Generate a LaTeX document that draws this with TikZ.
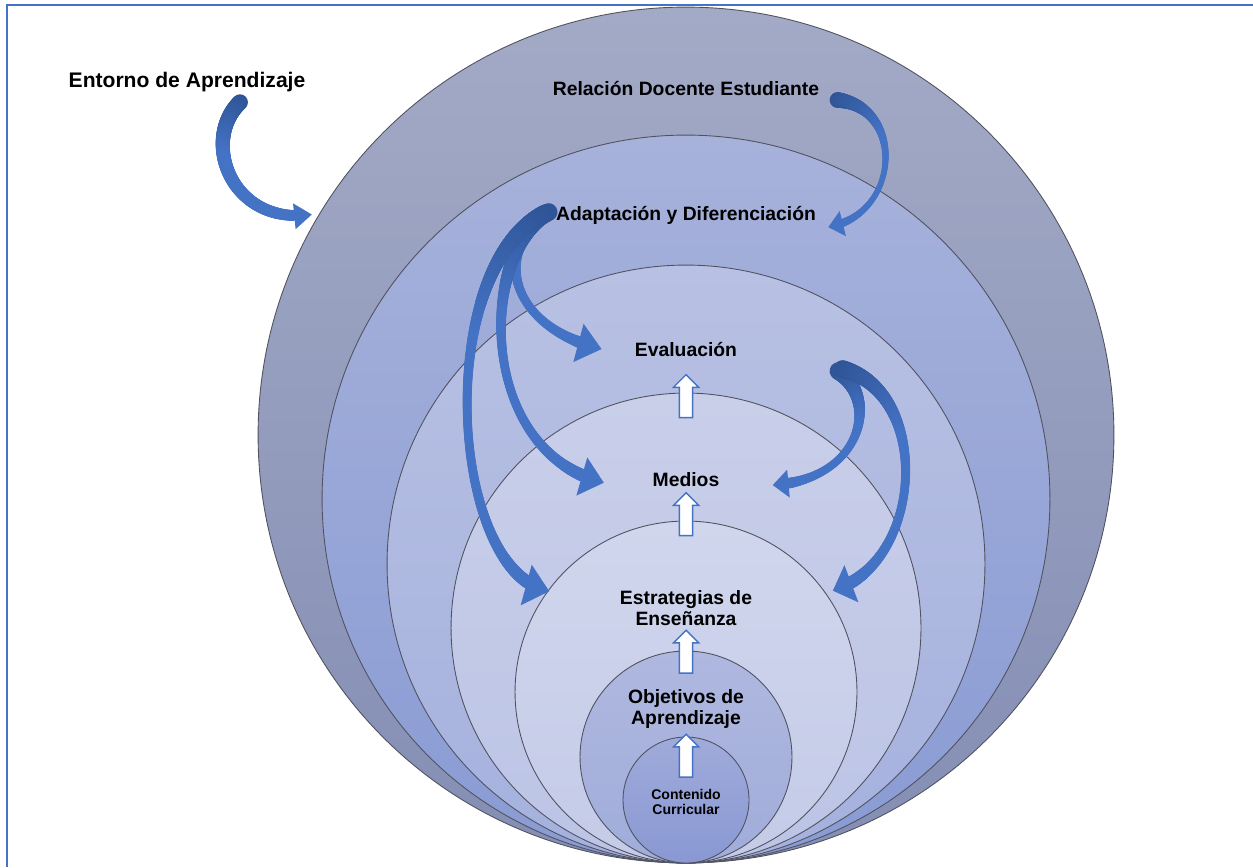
\documentclass[tikz,border=0pt]{standalone}
\usepackage{fontspec}
\setmainfont{Liberation Sans}
\usetikzlibrary{shapes.arrows, decorations.markings, calc}
\definecolor{framecolor}{RGB}{68,114,196}
\definecolor{arrowblue}{RGB}{68,114,196}
\definecolor{arrowdark}{RGB}{47,85,151}
\definecolor{ringline}{RGB}{80,82,95}
\definecolor{relA}{RGB}{163,170,198}
\definecolor{relB}{RGB}{132,142,180}
\definecolor{adaA}{RGB}{167,178,219}
\definecolor{adaB}{RGB}{137,155,212}
\definecolor{evaA}{RGB}{184,193,227}
\definecolor{evaB}{RGB}{165,177,222}
\definecolor{medA}{RGB}{201,207,233}
\definecolor{medB}{RGB}{188,196,230}
\definecolor{estA}{RGB}{208,214,236}
\definecolor{estB}{RGB}{196,203,232}
\definecolor{objA}{RGB}{175,184,223}
\definecolor{objB}{RGB}{160,172,218}
\definecolor{conA}{RGB}{160,171,218}
\definecolor{conB}{RGB}{137,152,211}

\begin{document}
\begin{tikzpicture}[
    x=0.02cm, y=0.02cm,
    ring/.style={circle, draw=ringline, line width=0.5pt, inner sep=0pt},
    lbl/.style={font=\fontsize{11}{11.5}\selectfont\bfseries, align=center, inner sep=0pt},
    uparrow/.style={single arrow, draw=arrowblue, fill=white, line width=0.8pt, rotate=90,
        minimum height=24.4pt, inner xsep=0pt, inner ysep=3.4pt, single arrow head extend=3.4pt},
    swoosh/.style n args={5}{draw=none,
        decoration={markings,
            mark=between positions 0 and -#4pt step 0.5pt with {
                \pgfmathsetmacro\ribT{\pgfkeysvalueof{/pgf/decoration/mark info/distance from start}/\pgfdecoratedpathlength}
                \pgfmathsetmacro\ribW{#1*(1-\ribT)^2+2*#2*\ribT*(1-\ribT)+#3*\ribT^2}
                \pgfmathtruncatemacro\ribC{min(100,\ribT*300)}
                \fill[arrowblue!\ribC!arrowdark] (0,0) circle[radius=\ribW pt];
            },
            mark=at position -3pt with {
                \fill[arrowblue, xshift=3pt] (0pt,0pt) -- (-#4pt,#5pt) -- (-#4pt,-#5pt) -- cycle;
            }},
        postaction={decorate}}
]
    \useasboundingbox (0,0) rectangle (1253,-867);

    % frame
    \draw[framecolor, line width=1.2pt] (1253,-5) -- (7,-5) -- (7,-867);

    % nested rings
    \node[ring, minimum size=17.12cm, top color=relA, bottom color=relB] (crel) at (686,-435) {};
    \node[ring, minimum size=14.56cm, top color=adaA, bottom color=adaB] (cada) at (686,-499) {};
    \node[ring, minimum size=11.96cm, top color=evaA, bottom color=evaB] (ceva) at (686,-564) {};
    \node[ring, minimum size=9.40cm, top color=medA, bottom color=medB] (cmed) at (686,-628) {};
    \node[ring, minimum size=6.84cm, top color=estA, bottom color=estB] (cest) at (686,-692) {};
    \node[ring, minimum size=4.24cm, top color=objA, bottom color=objB] (cobj) at (686,-757) {};
    \node[ring, minimum size=2.52cm, top color=conA, bottom color=conB] (ccon) at (686,-800) {};

    % labels
    \node[lbl, font=\fontsize{12}{13}\selectfont\bfseries] (entorno) at (187,-82) {Entorno de Aprendizaje};
    \node[lbl] (relacion) at (686,-88) {Relación Docente Estudiante};
    \node[lbl] (adapt) at (686,-215) {Adaptación y Diferenciación};
    \node[lbl] (evalua) at (686,-349) {Evaluación};
    \node[lbl] (medios) at (686,-480) {Medios};
    \node[lbl] (estrat) at (686,-608) {Estrategias de\\Enseñanza};
    \node[lbl] (objet) at (686,-709) {Objetivos de\\Aprendizaje};
    \node[lbl, font=\fontsize{8}{8.6}\selectfont\bfseries] (conten) at (686,-802) {Contenido\\Curricular};

    % white up arrows
    \node[uparrow] (up1) at (686,-399.5) {};
    \node[uparrow] (up2) at (686,-517.5) {};
    \node[uparrow] (up3) at (686,-655) {};
    \node[uparrow] (up4) at (686,-759) {};

    % curved arrows
    \path[swoosh={4.5}{3.6}{3}{10}{7.4}] ($(entorno.south)+(53,-10)$)
        .. controls +(-40,-39) and +(-80,-12) .. ($(crel.149)+(-7,0)$);
    \path[swoosh={4.5}{-0.2}{2.8}{8.5}{7.4}] ($(relacion.east)+(18,-12)$)
        .. controls +(67,-7) and +(73,13) .. ($(adapt.east)+(12,-12)$);
    \path[swoosh={5}{0.6}{4}{13.6}{11.3}] ($(adapt.west)+(-7,3)$)
        .. controls +(-55,-33) and +(-97,23) .. ($(evalua.west)+(-33,0)$);
    \path[swoosh={5}{0.6}{4}{13}{11.3}] ($(adapt.west)+(-10,2)$)
        .. controls +(-67,-47) and +(-122,32) .. ($(medios.west)+(-51,-2)$);
    \path[swoosh={5}{0.6}{4}{13.6}{12}] ($(adapt.west)+(-12,1)$)
        .. controls +(-110,-56) and +(-95,25) .. ($(estrat.west)+(-75,18)$);
    \path[swoosh={5}{0.4}{3.6}{9}{8}] ($(evalua.east)+(101,-22)$)
        .. controls +(42,-30) and +(88,5) .. ($(medios.east)+(53,-5)$);
    \path[swoosh={5}{0.6}{4}{11.3}{11.3}] ($(evalua.east)+(105,-20)$)
        .. controls +(88,-22) and +(91,30) .. ($(estrat.east)+(82,18)$);
\end{tikzpicture}
\end{document}
